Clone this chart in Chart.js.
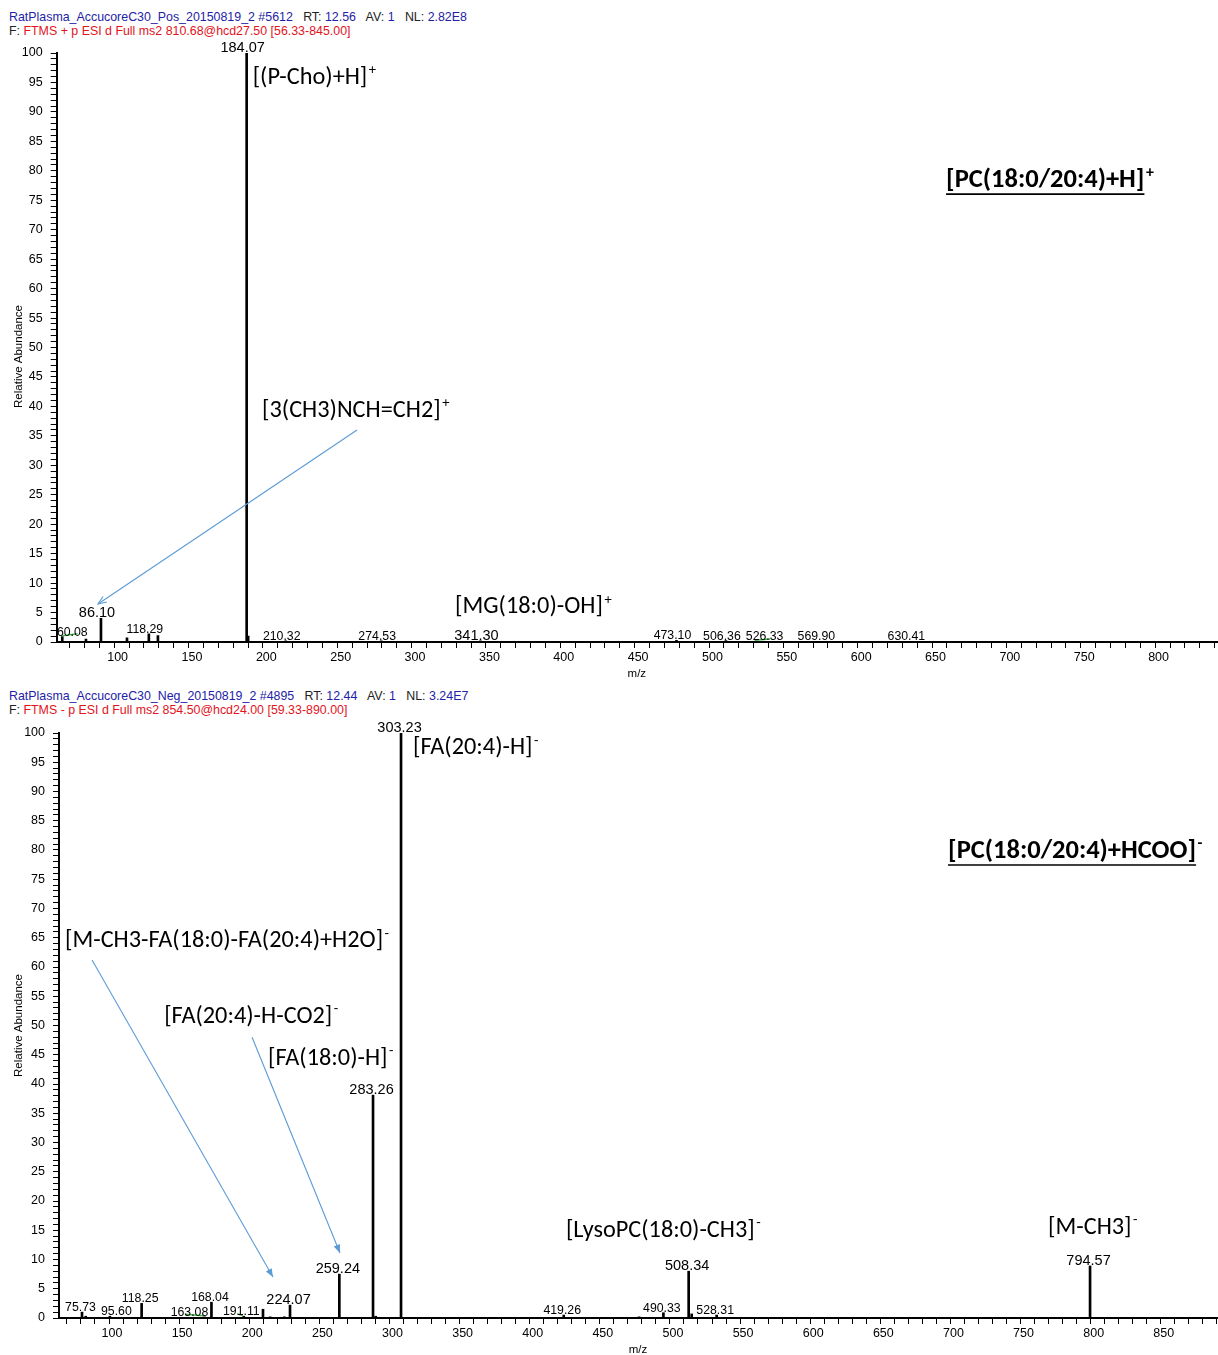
<!DOCTYPE html>
<html>
<head>
<meta charset="utf-8">
<script src="https://cdn.jsdelivr.net/npm/chart.js@4/dist/chart.umd.min.js"></script>
<style>
  body { margin:0; background:#fff; width:1218px; height:1355px; position:relative; overflow:hidden;
         font-family:"Liberation Sans", Arial, sans-serif; }
  .hdr { position:absolute; left:9px; font-size:12.4px; line-height:14px; white-space:pre; color:#222; }
  .b { color:#1e22a6; }
  .r { color:#e3131c; }
  canvas { position:absolute; left:0; }
</style>
</head>
<body>
<div class="hdr" style="top:10px"><span class="b">RatPlasma_AccucoreC30_Pos_20150819_2 #5612</span>   RT: <span class="b">12.56</span>   AV: <span class="b">1</span>   NL: <span class="b">2.82E8</span></div>
<div class="hdr" style="top:24px">F: <span class="r">FTMS + p ESI d Full ms2 810.68@hcd27.50 [56.33-845.00]</span></div>
<canvas id="pos" width="1218" height="685" style="top:0;width:1218px;height:685px"></canvas>

<div class="hdr" style="top:689px"><span class="b">RatPlasma_AccucoreC30_Neg_20150819_2 #4895</span>   RT: <span class="b">12.44</span>   AV: <span class="b">1</span>   NL: <span class="b">3.24E7</span></div>
<div class="hdr" style="top:703px">F: <span class="r">FTMS - p ESI d Full ms2 854.50@hcd24.00 [59.33-890.00]</span></div>
<canvas id="neg" width="1218" height="670" style="top:685px;width:1218px;height:670px"></canvas>

<script>
// ---- Positive mode MS2 spectrum (precursor m/z 810.68) ----
const posMz  = [60.08, 76.0, 86.10, 103.6, 118.29, 124.4, 184.07, 185.08, 210.32, 274.53, 341.30, 473.10, 506.36, 526.33, 569.90, 630.41];
const posRel = [0.9,   0.5,  4.0,   0.7,   1.4,    1.1,   100,    1.0,    0.2,    0.2,    0.2,    0.3,    0.25,   0.15,   0.12,   0.12];
// peaks carrying an m/z label
const posLabelled = [60.08, 86.10, 118.29, 184.07, 210.32, 274.53, 341.30, 473.10, 506.36, 526.33, 569.90, 630.41];
// peaks assigned to a fragment
const posAssigned = [86.10, 184.07, 341.30];
// short green trace segments near the baseline: [mz0, rel0, mz1, rel1]
const posTraces = [[60.08, 1.07, 70.4, 1.41], [525.9, 0.29, 536.0, 0.51]];

// ---- Negative mode MS2 spectrum (precursor m/z 854.50) ----
const negMz  = [75.73, 78.4, 95.60, 118.25, 163.08, 168.04, 191.11, 204.8, 209.9, 220.0, 224.07, 259.24, 283.26, 285.2, 303.23, 419.26, 473.0, 490.33, 508.34, 510.5, 528.31, 794.57];
const negRel = [1.0,   0.3,  0.3,   2.5,    0.2,    2.7,    0.3,    1.5,   0.2,   0.2,   2.2,    7.5,    38.1,   0.3,   100,    0.5,    0.2,   0.9,    8.0,    0.7,   0.5,    8.9];
const negLabelled = [75.73, 95.60, 118.25, 163.08, 168.04, 191.11, 224.07, 259.24, 283.26, 303.23, 419.26, 490.33, 508.34, 528.31, 794.57];
const negAssigned = [224.07, 259.24, 283.26, 303.23, 508.34, 794.57];
const negTraces = [[149.2, 0.63, 162.2, 0.39], [186.5, 0.73, 190.3, 0.39]];

// fragment annotations: text, charge sign, anchor (left edge m/z, vertical centre in %)
const posNotes = [
  { text: '[(P-Cho)+H]',        sup: '+', mz: 188.1, rel: 95.8 },
  { text: '[PC(18:0/20:4)+H]',  sup: '+', mz: 654.4, rel: 78.3, bold: true },
  { text: '[3(CH3)NCH=CH2]',    sup: '+', mz: 194.4, rel: 39.3 },
  { text: '[MG(18:0)-OH]',      sup: '+', mz: 324.2, rel: 5.9 }
];
const negNotes = [
  { text: '[FA(20:4)-H]',                   sup: '-', mz: 311.8, rel: 97.4 },
  { text: '[PC(18:0/20:4)+HCOO]',           sup: '-', mz: 693.3, rel: 79.7, bold: true },
  { text: '[M-CH3-FA(18:0)-FA(20:4)+H2O]',  sup: '-', mz: 63.6,  rel: 64.4 },
  { text: '[FA(20:4)-H-CO2]',               sup: '-', mz: 134.3, rel: 51.5 },
  { text: '[FA(18:0)-H]',                   sup: '-', mz: 208.4, rel: 44.3 },
  { text: '[LysoPC(18:0)-CH3]',             sup: '-', mz: 420.8, rel: 14.9 },
  { text: '[M-CH3]',                        sup: '-', mz: 764.6, rel: 15.4 }
];
// pointer arrows: [fromMz, fromRel, toMz, toRel]
const posArrows = [[258.3, 36.0, 84.1, 6.46]];
const negArrows = [[82.9, 61.2, 211.9, 7.0], [197.0, 48.0, 259.7, 11.1]];

const FONT = '"Liberation Sans", Arial, sans-serif';
const NOTE_FONT = 'Carlito, Lato, "Open Sans", sans-serif';
const ARROW_BLUE = '#5b9bd5';

function drawPeakLabels(chart, spec) {
  const { ctx, chartArea: ca, scales: { x, y } } = chart;
  const stems = spec.mz.map((m, i) => ({ mz: m, px: x.getPixelForValue(m), top: y.getPixelForValue(spec.rel[i]) }));
  const items = spec.mz.map((m, i) => ({ mz: m, rel: spec.rel[i] }))
    .filter(p => spec.labelled.includes(p.mz))
    .sort((a, b) => b.rel - a.rel);
  const placed = [];
  ctx.fillStyle = '#000';
  ctx.textAlign = 'center';
  ctx.textBaseline = 'alphabetic';
  for (const p of items) {
    const big = spec.assigned.includes(p.mz);
    const size = big ? 14.5 : 12.3;
    ctx.font = `${size}px ${FONT}`;
    const txt = p.mz.toFixed(2);
    const w = ctx.measureText(txt).width;
    const base = y.getPixelForValue(p.rel) - 1;
    const topY = base - size * 0.74;
    const cx0 = x.getPixelForValue(p.mz) + spec.labelShift;
    // keep labels clear of the axis start, other stems and already placed labels
    const clash = (cx) => {
      const l = cx - w / 2, r = cx + w / 2;
      if (l < ca.left) return true;
      for (const s of stems) {
        if (s.mz === p.mz) continue;
        if (s.px >= l - 3 && s.px <= r + 3 && s.top < base) return true;
      }
      for (const b of placed) {
        if (l < b.r + 5 && r > b.l - 5 && topY < b.b && base > b.t) return true;
      }
      return false;
    };
    let cx = cx0;
    for (let d = 0; d < 120; d += 0.5) {
      if (!clash(cx0 + d)) { cx = cx0 + d; break; }
      if (!clash(cx0 - d)) { cx = cx0 - d; break; }
    }
    placed.push({ l: cx - w / 2, r: cx + w / 2, t: topY, b: base });
    ctx.fillText(txt, cx, base);
  }
}

function drawNotes(chart, notes) {
  const { ctx, scales: { x, y } } = chart;
  ctx.fillStyle = '#000';
  ctx.strokeStyle = '#000';
  ctx.textAlign = 'left';
  ctx.textBaseline = 'middle';
  for (const n of notes) {
    const size = n.bold ? 26.5 : 24.3;
    ctx.font = `${n.bold ? 'bold ' : ''}${size}px ${NOTE_FONT}`;
    const left = x.getPixelForValue(n.mz), cy = y.getPixelForValue(n.rel);
    ctx.fillText(n.text, left, cy);
    const w = ctx.measureText(n.text).width;
    if (n.bold) {
      ctx.lineWidth = 1.7;
      ctx.beginPath();
      ctx.moveTo(left, cy + size * 0.5);
      ctx.lineTo(left + w, cy + size * 0.5);
      ctx.stroke();
    }
    ctx.font = `${n.bold ? 'bold ' : ''}${size * 0.6}px ${NOTE_FONT}`;
    ctx.fillText(n.sup, left + w + 1.5, cy - size * 0.3);
  }
}

function drawArrows(chart, arrows) {
  const { ctx, scales: { x, y } } = chart;
  ctx.strokeStyle = ARROW_BLUE;
  ctx.fillStyle = ARROW_BLUE;
  ctx.lineWidth = 1.1;
  for (const a of arrows) {
    const x0 = x.getPixelForValue(a[0]), y0 = y.getPixelForValue(a[1]);
    const x1 = x.getPixelForValue(a[2]), y1 = y.getPixelForValue(a[3]);
    ctx.beginPath(); ctx.moveTo(x0, y0); ctx.lineTo(x1, y1); ctx.stroke();
    const ang = Math.atan2(y1 - y0, x1 - x0), L = 9, sp = 0.38;
    ctx.beginPath();
    ctx.moveTo(x1 - L * Math.cos(ang - sp), y1 - L * Math.sin(ang - sp));
    ctx.lineTo(x1, y1);
    ctx.lineTo(x1 - L * Math.cos(ang + sp), y1 - L * Math.sin(ang + sp));
    if (chart.canvas.id === 'neg') { ctx.closePath(); ctx.fill(); } else { ctx.stroke(); }
  }
}

function buildChart(id, spec) {
  const decor = {
    id: 'decor',
    afterDraw(chart) {
      const { ctx, chartArea: ca } = chart;
      ctx.save();
      drawPeakLabels(chart, spec);
      drawNotes(chart, spec.notes);
      drawArrows(chart, spec.arrows);
      ctx.fillStyle = '#000';
      ctx.font = `11.5px ${FONT}`;
      ctx.textAlign = 'center';
      ctx.textBaseline = 'middle';
      ctx.fillText('m/z', (ca.left + ca.right) / 2, ca.bottom + 32);
      ctx.translate(19, (ca.top + ca.bottom) / 2 + spec.titleShift);
      ctx.rotate(-Math.PI / 2);
      ctx.fillText('Relative Abundance', 0, 0);
      ctx.restore();
    }
  };
  const datasets = [{
    type: 'bar',
    data: spec.mz.map((m, i) => ({ x: m, y: spec.rel[i] })),
    backgroundColor: '#000',
    borderWidth: 0,
    barThickness: 2,
    order: 2
  }];
  for (const t of spec.traces) {
    datasets.push({
      type: 'line',
      data: [{ x: t[0], y: t[1] }, { x: t[2], y: t[3] }],
      borderColor: '#3cb44b',
      borderWidth: 1.4,
      pointRadius: 0,
      order: 1
    });
  }
  return new Chart(document.getElementById(id), {
    type: 'bar',
    data: { datasets },
    options: {
      responsive: false,
      animation: false,
      devicePixelRatio: 1,
      layout: { padding: { top: spec.padTop, right: 1, left: 0, bottom: 0 } },
      plugins: { legend: { display: false }, tooltip: { enabled: false } },
      scales: {
        x: {
          type: 'linear', min: spec.xMin, max: spec.xMax, offset: false,
          afterBuildTicks: (s) => {
            const t = [];
            for (let v = Math.ceil(s.min / 10) * 10; v <= s.max; v += 10) t.push({ value: v });
            s.ticks = t;
          },
          afterFit: (s) => { s.height = spec.xHeight; },
          grid: { display: true, drawOnChartArea: false, drawTicks: true, tickLength: 6, color: '#000', lineWidth: 1 },
          border: { display: true, color: '#000', width: 2 },
          ticks: {
            autoSkip: false, maxRotation: 0, minRotation: 0, padding: 2, labelOffset: -4,
            color: '#000', font: { size: 12.5, family: FONT },
            callback: (v) => (v % 50 === 0 ? String(v) : '')
          }
        },
        y: {
          min: 0, max: 100,
          afterBuildTicks: (s) => {
            const t = [];
            for (let v = 0; v <= 100; v++) t.push({ value: v });
            s.ticks = t;
          },
          afterFit: (s) => { s.width = spec.yWidth; },
          grid: { display: true, drawOnChartArea: false, drawTicks: true, tickLength: 6, color: '#000', lineWidth: 1 },
          border: { display: true, color: '#000', width: 2 },
          ticks: {
            autoSkip: false, padding: 8, color: '#000', font: { size: 12.5, family: FONT },
            callback: (v) => (v % 5 === 0 ? String(v) : '')
          }
        }
      }
    },
    plugins: [decor]
  });
}

buildChart('pos', {
  mz: posMz, rel: posRel, labelled: posLabelled, assigned: posAssigned, traces: posTraces,
  notes: posNotes, arrows: posArrows, labelShift: -4,
  xMin: 56.33, xMax: 836.6, padTop: 53, xHeight: 43, yWidth: 56.7, titleShift: 9
});
buildChart('neg', {
  mz: negMz, rel: negRel, labelled: negLabelled, assigned: negAssigned, traces: negTraces,
  notes: negNotes, arrows: negArrows, labelShift: -1.5,
  xMin: 59.33, xMax: 885.1, padTop: 48, xHeight: 37, yWidth: 59, titleShift: 0
});
</script>
</body>
</html>
